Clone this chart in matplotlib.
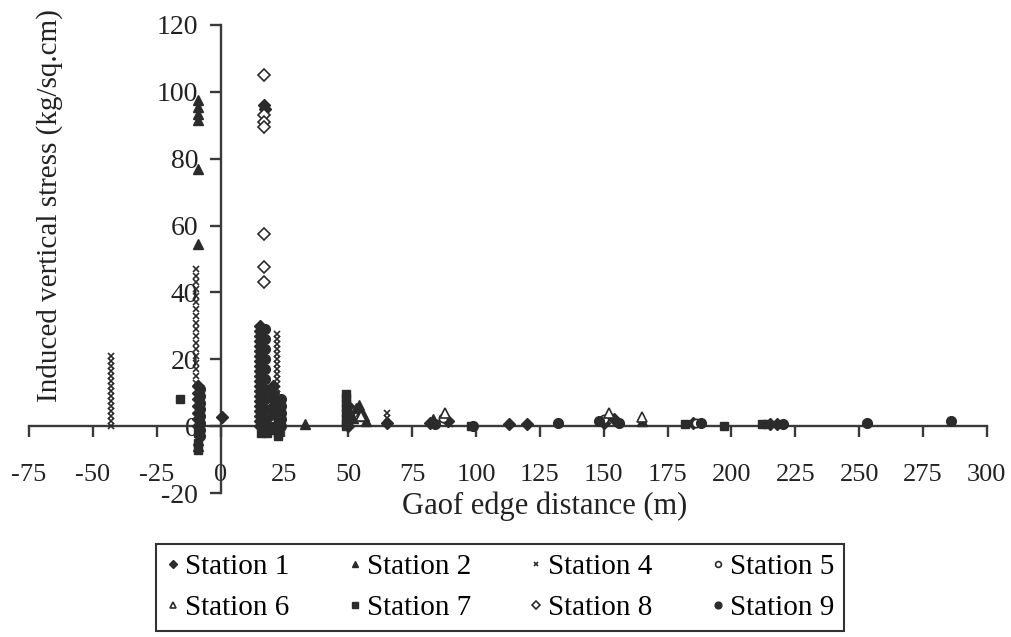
import matplotlib
matplotlib.use('Agg')
import matplotlib.pyplot as plt

plt.rcParams['font.family'] = ['Liberation Serif', 'DejaVu Serif']
plt.rcParams['axes.unicode_minus'] = False

# ── data ───────────────────────────────────────────────────
st1_x = [0.5, 17, 17.5,
         15.5, 15.5, 15.5, 15.5, 15.5, 15.5, 15.5, 15.5, 15.5, 15.5, 15.5,
         15.5, 15.5, 15.5, 15.5, 15.5, 15.5, 15.5, 15.5, 15.5, 15.5,
         20.5, 20.5, 20.5, 20.5, 20.5, 20.5,
         -9, -9, -9, -9, -9, -9, -9,
         50, 50, 50, 50, 65, 82, 89, 113, 120, 150, 154, 185, 215, 218]
st1_y = [2.6, 96, 95,
         30, 28.5, 27, 25.5, 24, 22.5, 21, 19.5, 18, 16.5, 15,
         13.5, 12, 10.5, 9, 7.5, 6, 4.5, 3, 1.5, 0,
         12, 10, 8, 6, 4, 2,
         12, 10, 8, 6, 4, 2, 0,
         6, 4, 2, 0, 1, 1, 1.5, 0.5, 0.5, 1, 2, 1, 0.5, 0.5]

st2_x = [-9, -9, -9, -9, -9, -9, -9, -9, 33, 52, 53, 54, 55, 56, 57, 83, 165]
st2_y = [97.5, 95.5, 93.5, 91.5, 77, 54.5, -4, -6, 0.5, 2.5, 5.5, 6.2, 4.5, 3, 1.5, 2, 1.5]

st4_x = [-43, -43, -43, -43, -43, -43, -43, -43, -43, -43, -43, -43, -43, -43, -43,
         -9.5, -9.5, -9.5, -9.5, -9.5, -9.5, -9.5, -9.5, -9.5, -9.5, -9.5, -9.5,
         -9.5, -9.5, -9.5, -9.5, -9.5, -9.5,
         22, 22, 22, 22, 22, 22, 22, 22, 22, 22, 22, 22, 22, 22, 22, 22, 22, 22, 22,
         65, 65, 90]
st4_y = [21, 19.5, 18, 16.5, 15, 13.5, 12, 10.5, 9, 7.5, 6, 4.5, 3, 1.5, 0,
         47, 45, 43, 41, 39, 37, 35, 33, 31, 29, 27, 25, 23, 21, 19, 17, 15, 13,
         27.5, 26, 24.5, 23, 21.5, 20, 18.5, 17, 15.5, 14, 12.5, 11, 9.5, 8, 6.5,
         5, 3.5, 2, 0.5,
         3.8, 2.5, 0.5]

st5_x = [21, 87, 150, 186]
st5_y = [1, 2.5, 2, 1]

st6_x = [55, 88, 152, 165]
st6_y = [3, 4, 4, 2.7]

st7_x = [-16, -9, -9, -9,
         49, 49, 49, 49, 49, 49, 49, 49,
         16, 17, 18, 19, 20, 22.5, 22.5, 22.5, 22.5, 22.5, 22.5,
         98, 182, 197, 212, 214]
st7_y = [8, -7, -5, -2,
         9.7, 8.5, 7, 5.5, 4, 2.5, 1, 0,
         -2, -1, -2, 0, -1, -3, -2, -1, 0, 1, 2,
         0, 0.5, 0, 0.5, 0.5]

st8_x = [17, 17, 17, 17, 17, 17, 17]
st8_y = [105, 93, 91, 89.5, 57.5, 47.5, 43]

st9_x = [17.5, 17.5, 17.5, 17.5, 17.5, 17.5, 17.5, 17.5, 17.5, 17.5, 17.5,
         23.5, 23.5, 23.5, 23.5, 23.5,
         -8, -8, -8, -8, -8, -8, -8, -8,
         84, 99, 132, 148, 156, 188, 220, 253, 286]
st9_y = [29, 26, 23, 20, 17, 14, 11, 8, 5, 2, 0,
         8, 6, 4, 2, 0,
         11, 9, 7, 5, 3, 1, -1, -3,
         0.5, 0, 1, 1.5, 1, 1, 0.5, 1, 1.5]

XTICKS = [-75, -50, -25, 0, 25, 50, 75, 100, 125, 150, 175, 200, 225, 250, 275, 300]
YTICKS = [-20, 0, 20, 40, 60, 80, 100, 120]

INK = '#2b2b2b'

fig = plt.figure(figsize=(10.11, 6.37), dpi=100)
ax = fig.add_axes([0.0287, 0.226, 0.9474, 0.7348])

h1, = ax.plot(st1_x, st1_y, 'D', color=INK, ms=6.5, ls='none', label='Station 1', zorder=3)
h2, = ax.plot(st2_x, st2_y, '^', color=INK, ms=6.5, ls='none', label='Station 2', zorder=3)
h4, = ax.plot(st4_x, st4_y, 'x', color=INK, ms=4.5, mew=1.2, ls='none', label='Station 4', zorder=3)
h5, = ax.plot(st5_x, st5_y, 'o', mfc='white', mec=INK, ms=6, mew=1.2, ls='none',
              label='Station 5', zorder=3)
h6, = ax.plot(st6_x, st6_y, '^', mfc='white', mec=INK, ms=7, mew=1.2, ls='none',
              label='Station 6', zorder=3)
h7, = ax.plot(st7_x, st7_y, 's', color=INK, ms=6, ls='none', label='Station 7', zorder=3)
h8, = ax.plot(st8_x, st8_y, 'D', mfc='white', mec=INK, ms=6, mew=1.2, ls='none',
              label='Station 8', zorder=3)
h9, = ax.plot(st9_x, st9_y, 'o', color=INK, ms=7, ls='none', label='Station 9', zorder=3)

ax.set_xlim(-75, 300)
ax.set_ylim(-20, 120)
ax.spines['left'].set_position(('data', 0))
ax.spines['bottom'].set_position(('data', 0))
ax.spines['top'].set_visible(False)
ax.spines['right'].set_visible(False)
for s in ('left', 'bottom'):
    ax.spines[s].set_color('#3a3a3a')
    ax.spines[s].set_linewidth(1.7)

ax.set_xticks(XTICKS)
ax.set_yticks(YTICKS)
ax.tick_params(axis='x', direction='out', length=8, width=1.7, color='#3a3a3a',
               labelsize=19, pad=19, labelcolor='#222222')
ax.tick_params(axis='y', direction='out', length=8, width=1.7, color='#3a3a3a',
               labelsize=20, pad=8, labelcolor='#222222')
ax.patch.set_visible(False)

fig.text(0.049, 0.678, 'Induced vertical stress (kg/sq.cm)', rotation=90,
         ha='center', va='center', fontsize=21, color='#222222')
fig.text(0.539, 0.205, 'Gaof edge distance (m)', ha='center', va='center',
         fontsize=22, color='#222222')

# column-major fill, so reorder to read row by row like the original
order = [h1, h6, h2, h7, h4, h8, h5, h9]
leg = fig.legend(order, [h.get_label() for h in order],
                 loc='center', bbox_to_anchor=(0.4946, 0.0777), ncol=4,
                 fontsize=21, frameon=True, fancybox=False, framealpha=1,
                 edgecolor='#333333', markerscale=0.7, handlelength=0.5,
                 handletextpad=0.15, columnspacing=2.0, borderpad=0.35,
                 labelspacing=0.5, borderaxespad=0)
leg.get_frame().set_linewidth(1.5)

fig.savefig('out.png', dpi=100)
